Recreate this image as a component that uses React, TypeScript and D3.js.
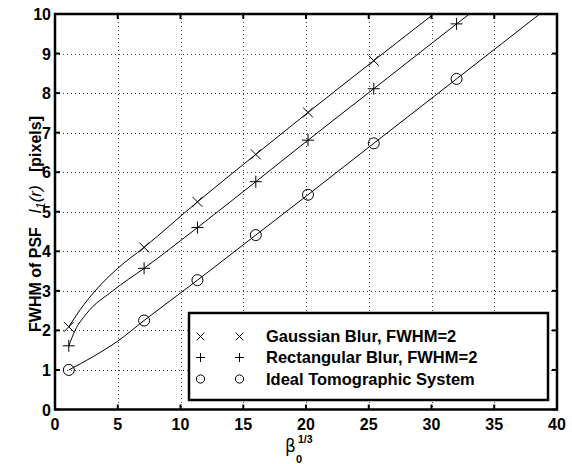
import React from "react";
import * as d3 from "d3";

// Marker positions (beta0^(1/3))
const markerX = [1.1, 7.1, 11.35, 16, 20.16, 25.4, 32];
const gaussMarkers = [2.09, 4.1, 5.25, 6.45, 7.51, 8.82, 10.45];
const rectMarkers = [1.61, 3.57, 4.6, 5.76, 6.81, 8.11, 9.75];
const idealMarkers = [1.0, 2.25, 3.27, 4.41, 5.43, 6.73, 8.36];

// Continuous curves
const gaussLineX = [1.1, 2, 3.2, 5, 7.1, 11.35, 16, 20.16, 25.4, 32];
const gaussLineY = [2.09, 2.52, 3.0, 3.57, 4.1, 5.25, 6.45, 7.51, 8.82, 10.45];
const rectLineX = [1.1, 1.6, 2.5, 4.6, 7.1, 11.35, 16, 20.16, 25.4, 32, 40];
const rectLineY = [1.61, 2.0, 2.42, 3.0, 3.57, 4.6, 5.76, 6.81, 8.11, 9.75, 11.7];
const idealLineX = [1.1, 3, 5, 7.1, 11.35, 16, 20.16, 25.4, 32, 40];
const idealLineY = [1.0, 1.33, 1.73, 2.25, 3.27, 4.41, 5.43, 6.73, 8.36, 10.34];

const xTicks = [0, 5, 10, 15, 20, 25, 30, 35, 40];
const yTicks = [0, 1, 2, 3, 4, 5, 6, 7, 8, 9, 10];
const legendLabels = [
  "Gaussian Blur, FWHM=2",
  "Rectangular Blur, FWHM=2",
  "Ideal Tomographic System",
];

const W = 572;
const H = 464;
const L = 55, R = 557, T = 14, B = 409.5;

function Marker({ kind, cx, cy, k = 1 }: { kind: string; cx: number; cy: number; k?: number }) {
  if (kind === "x") {
    const s = 5 * k;
    return (
      <path d={`M${cx - s},${cy - s}L${cx + s},${cy + s}M${cx - s},${cy + s}L${cx + s},${cy - s}`} stroke="#000" strokeWidth={1} fill="none" />
    );
  }
  if (kind === "+") {
    const s = 6 * k;
    return (
      <path d={`M${cx - s},${cy}L${cx + s},${cy}M${cx},${cy - s}L${cx},${cy + s}`} stroke="#000" strokeWidth={1} fill="none" />
    );
  }
  return <circle cx={cx} cy={cy} r={5.5 * k} stroke="#000" strokeWidth={1} fill="none" />;
}

export default function App() {
  const x = d3.scaleLinear().domain([0, 40]).range([L, R]);
  const y = d3.scaleLinear().domain([0, 10]).range([B, T]);
  const line = d3
    .line<[number, number]>()
    .x((d) => x(d[0]))
    .y((d) => y(d[1]))
    .curve(d3.curveMonotoneX);

  const series = [
    { kind: "x", lx: gaussLineX, ly: gaussLineY, my: gaussMarkers },
    { kind: "+", lx: rectLineX, ly: rectLineY, my: rectMarkers },
    { kind: "o", lx: idealLineX, ly: idealLineY, my: idealMarkers },
  ];

  const font = "'Liberation Sans', Arial, Helvetica, sans-serif";
  const legX = 189, legY = 313, legW = 359, legH = 87;
  const rowY = [336.5, 357.5, 379];
  const sp = "\u00a0\u00a0\u00a0";

  return (
    <svg width={W} height={H} style={{ position: "absolute", left: 0, top: 0, background: "#fff" }} fontFamily={font}>
      <defs>
        <clipPath id="plotclip">
          <rect x={L} y={T} width={R - L} height={B - T} />
        </clipPath>
      </defs>
      <rect x={0} y={0} width={W} height={H} fill="#fff" />
      {/* grid */}
      <g stroke="#444" strokeWidth={1} strokeDasharray="1 3" shapeRendering="crispEdges">
        {xTicks.slice(1, -1).map((t) => (
          <line key={"gx" + t} x1={Math.round(x(t)) + 0.5} x2={Math.round(x(t)) + 0.5} y1={T} y2={B} />
        ))}
        {yTicks.slice(1, -1).map((t) => (
          <line key={"gy" + t} x1={L} x2={R} y1={Math.round(y(t)) + 0.5} y2={Math.round(y(t)) + 0.5} />
        ))}
      </g>
      {/* ticks inward */}
      <g stroke="#000" strokeWidth={2}>
        {xTicks.map((t) => (
          <g key={"tx" + t}>
            <line x1={x(t)} x2={x(t)} y1={B} y2={B - 5} />
            <line x1={x(t)} x2={x(t)} y1={T} y2={T + 5} />
          </g>
        ))}
        {yTicks.map((t) => (
          <g key={"ty" + t}>
            <line x1={L} x2={L + 5} y1={y(t)} y2={y(t)} />
            <line x1={R} x2={R - 5} y1={y(t)} y2={y(t)} />
          </g>
        ))}
      </g>
      {/* curves and markers */}
      <g clipPath="url(#plotclip)">
        {series.map((s, i) => (
          <g key={"s" + i}>
            <path
              d={line(s.lx.map((v, j) => [v, s.ly[j]] as [number, number])) || ""}
              fill="none"
              stroke="#000"
              strokeWidth={1}
            />
            {markerX.map((mx, j) => (
              <Marker key={j} kind={s.kind} cx={x(mx)} cy={y(s.my[j])} />
            ))}
          </g>
        ))}
      </g>
      {/* frame */}
      <rect x={L} y={T} width={R - L} height={B - T} fill="none" stroke="#000" strokeWidth={2.5} />
      {/* tick labels */}
      <g fontSize={16} fontWeight="bold" fill="#000">
        {xTicks.map((t) => (
          <text key={"lx" + t} x={x(t)} y={430} textAnchor="middle">
            {t}
          </text>
        ))}
        {yTicks.map((t) => (
          <text key={"ly" + t} x={51} y={y(t) + 6} textAnchor="end">
            {t}
          </text>
        ))}
      </g>
      {/* x label */}
      <g fill="#000">
        <text x={285} y={452} fontSize={17} fontFamily="'DejaVu Sans', sans-serif">β</text>
        <text x={296} y={463} fontSize={11} fontWeight="bold">0</text>
        <text x={298} y={443} fontSize={10.5} fontWeight="bold">1/3</text>
      </g>
      {/* y label */}
      <text
        transform={`translate(41, 224) rotate(-90)`}
        textAnchor="middle"
        fontSize={16}
        fontWeight="bold"
        fill="#000"
      >
        FWHM of PSF{sp}
        <tspan fontStyle="italic" fontWeight="normal" fontSize={17}>I</tspan>
        <tspan fontStyle="italic" fontWeight="normal" fontSize={12} dy={4}>1</tspan>
        <tspan fontStyle="italic" fontWeight="normal" fontSize={17} dy={-4}>(r)</tspan>
        {sp}[pixels]
      </text>
      {/* legend */}
      <rect x={legX} y={legY} width={legW} height={legH} fill="#fff" stroke="#000" strokeWidth={2.5} />
      {series.map((s, i) => (
        <g key={"leg" + i}>
          <Marker kind={s.kind} cx={200.5} cy={rowY[i]} k={0.75} />
          <Marker kind={s.kind} cx={239.5} cy={rowY[i]} k={0.75} />
          <text x={266} y={rowY[i] + 5.5} fontSize={16.5} fontWeight="bold" fill="#000">
            {legendLabels[i]}
          </text>
        </g>
      ))}
    </svg>
  );
}
